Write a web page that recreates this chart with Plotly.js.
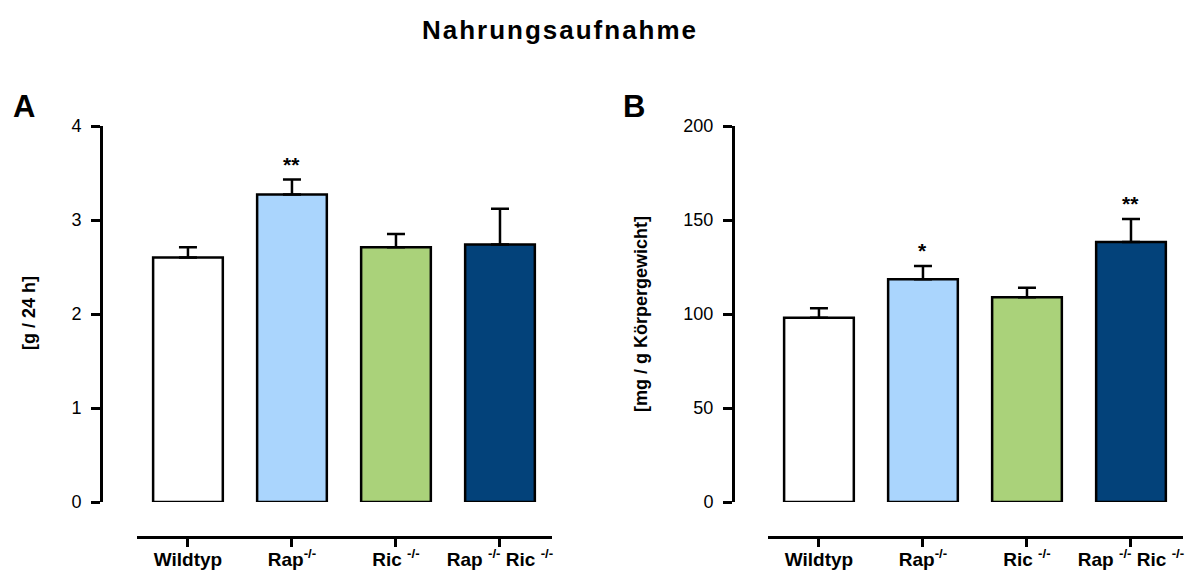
<!DOCTYPE html>
<html>
<head>
<meta charset="utf-8">
<script src="https://cdn.plot.ly/plotly-3.0.1.min.js"></script>
<style>body{margin:0;padding:0;background:#fff}</style>
</head>
<body>
<div id="chart" style="width:1194px;height:571px"></div>
<script>
// ---- data ----
const categories = ["Wildtyp", "Rap-/-", "Ric-/-", "Rap-/- Ric-/-"];
const tickLabels = ["<b>Wildtyp</b>", "<b>Rap<sup>-/-</sup></b>", "<b>Ric <sup>-/-</sup></b>", "<b>Rap <sup>-/-</sup> Ric <sup>-/-</sup></b>"];
const intakeA = [2.60, 3.27, 2.71, 2.74];      // g / 24 h
const intakeAErr = [0.11, 0.16, 0.14, 0.38];
const intakeB = [98.0, 118.5, 108.9, 138.3];   // mg / g Körpergewicht
const intakeBErr = [5.0, 7.0, 5.0, 12.2];
const starsA = ["", "**", "", ""];
const starsB = ["", "*", "", "**"];
const barColors = ["#ffffff", "#aad5fd", "#aad27a", "#03427a"];

const FONT = "Liberation Sans, Arial, Helvetica, sans-serif";
const W = 1194, H = 571;

function barTrace(vals, errs, xa, ya) {
  return {
    type: "bar",
    x: categories, y: vals,
    xaxis: xa, yaxis: ya,
    width: 0.67,
    marker: { color: barColors, line: { color: "#000", width: 2.5 } },
    error_y: { type: "data", symmetric: false, array: errs, arrayminus: errs.map(() => 0),
               color: "#000", thickness: 2.5, width: 9 },
    hoverinfo: "skip",
    showlegend: false
  };
}

const data = [
  barTrace(intakeA, intakeAErr, "x", "y"),
  barTrace(intakeB, intakeBErr, "x2", "y2")
];

const plotH = 411;
const yDomain = [35 / plotH, 1];

function yAxis(pos, range, dtick) {
  return {
    domain: yDomain, range: range, anchor: "free", position: pos,
    showline: true, linewidth: 3, linecolor: "#000",
    ticks: "outside", ticklen: 9, tickwidth: 3, tickcolor: "#000",
    ticklabelstandoff: 6,
    dtick: dtick, tick0: 0,
    showgrid: false, zeroline: false,
    tickfont: { family: FONT, size: 18, color: "#000" }
  };
}
function xAxis(dom) {
  return {
    domain: dom, range: [-0.49, 3.5], anchor: "free", position: 0,
    type: "category",
    showline: true, linewidth: 3, linecolor: "#000",
    ticks: "outside", ticklen: 8, tickwidth: 3, tickcolor: "#000",
    ticklabelstandoff: -4,
    tickmode: "array", tickvals: categories, ticktext: tickLabels,
    showgrid: false, zeroline: false,
    tickfont: { family: FONT, size: 19, color: "#000" }
  };
}

const annotations = [];
function addStars(stars, vals, errs, xr, yr) {
  stars.forEach((s, i) => {
    if (!s) return;
    annotations.push({ xref: xr, yref: yr, x: categories[i], y: vals[i] + errs[i],
      text: "<b>" + s + "</b>", showarrow: false, yanchor: "bottom", yshift: 2,
      font: { family: FONT, size: 21, color: "#000" } });
  });
}
addStars(starsA, intakeA, intakeAErr, "x", "y");
addStars(starsB, intakeB, intakeBErr, "x2", "y2");

annotations.push(
  { xref: "paper", yref: "paper", x: 24 / W, y: 1 + (126 - 107) / plotH, text: "<b>A</b>", showarrow: false,
    xanchor: "center", yanchor: "middle", font: { family: FONT, size: 31, color: "#000" } },
  { xref: "paper", yref: "paper", x: 634 / W, y: 1 + (126 - 107) / plotH, text: "<b>B</b>", showarrow: false,
    xanchor: "center", yanchor: "middle", font: { family: FONT, size: 31, color: "#000" } },
  { xref: "paper", yref: "paper", x: 29 / W, y: (537 - 313) / plotH, text: "<b>[g / 24 h]</b>", showarrow: false,
    textangle: -90, xanchor: "center", yanchor: "middle", font: { family: FONT, size: 18, color: "#000" } },
  { xref: "paper", yref: "paper", x: 641 / W, y: (537 - 314) / plotH, text: "<b>[mg / g Körpergewicht]</b>", showarrow: false,
    textangle: -90, xanchor: "center", yanchor: "middle", font: { family: FONT, size: 18, color: "#000" } }
);

const layout = {
  width: W, height: H,
  margin: { l: 0, r: 0, t: 126, b: 34 },
  paper_bgcolor: "#fff", plot_bgcolor: "rgba(0,0,0,0)",
  title: { text: "<b>Nahrungsaufnahme</b>", x: 560 / W, xanchor: "center", y: 1 - 30 / H, yanchor: "middle",
           font: { family: FONT, size: 26, color: "#000" } },
  xaxis: xAxis([137 / W, 552 / W]),
  yaxis: yAxis(101 / W, [0, 4], 1),
  xaxis2: xAxis([768 / W, 1183 / W]),
  yaxis2: yAxis(733 / W, [0, 200], 50),
  annotations: annotations,
  bargap: 0.33
};

Plotly.newPlot("chart", data, layout, { displayModeBar: false, staticPlot: true }).then(() => {
  document.querySelectorAll(".gtitle").forEach(e => { e.style.letterSpacing = "2px"; });
});
</script>
</body>
</html>
